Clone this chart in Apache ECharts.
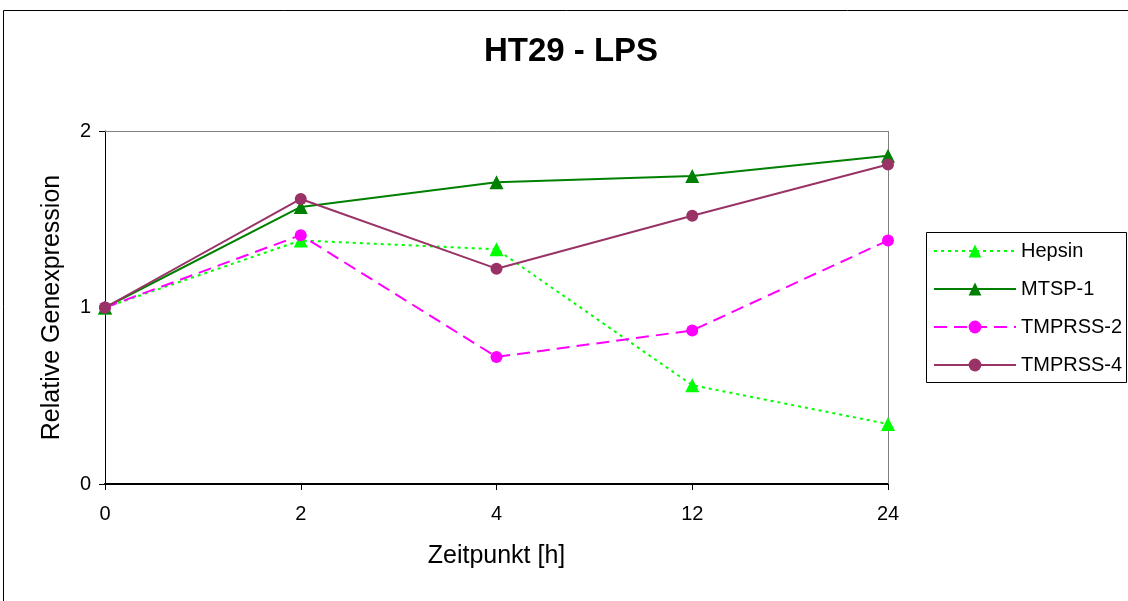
<!DOCTYPE html>
<html><head><meta charset="utf-8">
<script src="https://cdn.jsdelivr.net/npm/echarts@6/dist/echarts.min.js"></script>
<style>html,body{margin:0;padding:0;background:#fff}#c{width:1128px;height:601px}</style>
</head><body><div id="c"></div>
<script>
const categories = ['0','2','4','12','24'];
const hepsin = [1.0, 1.38, 1.33, 0.56, 0.34];
const mtsp1 = [1.0, 1.57, 1.71, 1.745, 1.86];
const tmprss2 = [1.0, 1.41, 0.72, 0.87, 1.38];
const tmprss4 = [1.0, 1.615, 1.22, 1.52, 1.81];
const yTicks = [0, 1, 2];

const chart = echarts.init(document.getElementById('c'), null, {renderer:'canvas'});
const font = 'Liberation Sans, Arial, sans-serif';
function ser(name, data, color, sym, size, type, z){
  return {name, type:'line', data, symbol:sym, symbolSize:size, z,
    lineStyle:{color, width:2, type}, itemStyle:{color}, emphasis:{disabled:true}};
}
chart.setOption({
  animation:false,
  title:{text:'HT29 - LPS', left:566, top:30, textAlign:'center',
    textStyle:{fontFamily:font, fontSize:33, fontWeight:'bold', color:'#000'}},
  graphic:[
    {type:'rect', shape:{x:3.5,y:10.5,width:1200,height:700}, style:{fill:null, stroke:'#000', lineWidth:1}, z:-1},
    {type:'rect', shape:{x:926.5,y:232.5,width:200,height:150}, style:{fill:'#fff', stroke:'#000', lineWidth:1}, z:1},
    {type:'line', shape:{x1:105,y1:131.5,x2:888.5,y2:131.5}, style:{stroke:'#808080', lineWidth:1}, z:2},
    {type:'line', shape:{x1:888.5,y1:131,x2:888.5,y2:484}, style:{stroke:'#808080', lineWidth:1}, z:2}
  ],
  legend:{left:928, top:235, orient:'vertical', itemGap:16, itemWidth:82, itemHeight:16,
    textStyle:{fontFamily:font, fontSize:20, color:'#000', height:22, lineHeight:22},
    data:['Hepsin','MTSP-1','TMPRSS-2','TMPRSS-4']},
  grid:{left:105, right:240, top:131, bottom:117},
  xAxis:{type:'category', data:categories, boundaryGap:false,
    name:'Zeitpunkt [h]', nameLocation:'middle', nameGap:60,
    nameTextStyle:{fontFamily:font, fontSize:25, color:'#000'},
    axisLine:{lineStyle:{color:'#000', width:2}},
    axisTick:{show:true, inside:false, length:6, lineStyle:{color:'#000'}, alignWithLabel:true},
    axisLabel:{fontFamily:font, fontSize:20, color:'#000', margin:20},
    splitLine:{show:false}},
  yAxis:{type:'value', min:0, max:2, interval:1,
    name:'Relative Genexpression', nameLocation:'middle', nameGap:40,
    nameTextStyle:{fontFamily:font, fontSize:25, color:'#000'},
    axisLine:{show:true, lineStyle:{color:'#000', width:1}},
    axisTick:{show:true, length:6, lineStyle:{color:'#000'}},
    axisLabel:{fontFamily:font, fontSize:20, color:'#000', margin:14,
      formatter:v=>yTicks.includes(v)?String(v):''},
    splitLine:{show:false}},
  series:[
    ser('Hepsin', hepsin, '#00FF00', 'triangle', 14, [3,4], 3),
    ser('MTSP-1', mtsp1, '#008000', 'triangle', 14, 'solid', 4),
    ser('TMPRSS-2', tmprss2, '#FF00FF', 'circle', 12, [13,7], 5),
    ser('TMPRSS-4', tmprss4, '#993366', 'circle', 12, 'solid', 6)
  ]
});
</script></body></html>
